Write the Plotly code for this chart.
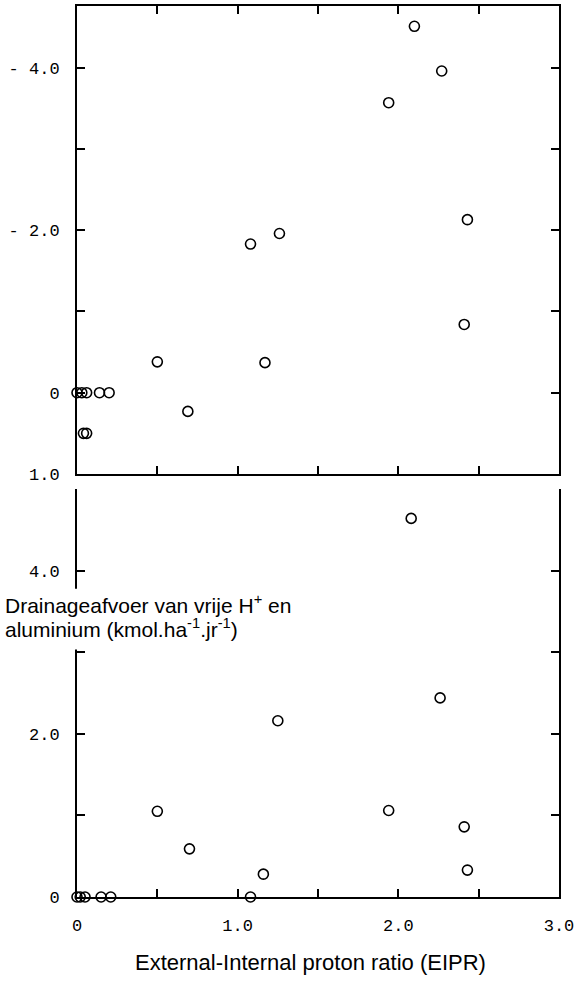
import plotly.graph_objects as go
from plotly.subplots import make_subplots

# ---- data ----
top_x = [0.00, 0.03, 0.06, 0.14, 0.20, 0.04, 0.06, 0.50, 0.69, 1.08, 1.17, 1.26, 1.94, 2.10, 2.27, 2.43, 2.41]
top_y = [0.00, 0.00, 0.00, 0.00, 0.00, -0.50, -0.50, 0.38, -0.23, 1.83, 0.37, 1.96, 3.57, 4.51, 3.96, 2.13, 0.84]

bot_x = [0.00, 0.02, 0.05, 0.15, 0.21, 0.50, 0.70, 1.08, 1.16, 1.25, 1.94, 2.08, 2.26, 2.41, 2.43]
bot_y = [0.00, 0.00, 0.00, 0.00, 0.00, 1.05, 0.59, 0.00, 0.28, 2.16, 1.06, 4.64, 2.44, 0.86, 0.33]

x_tickvals = [0, 0.5, 1.0, 1.5, 2.0, 2.5, 3.0]
x_ticktext = ["0", "", "1.0", "", "2.0", "", "3.0"]
top_y_tickvals = [-1, 0, 1, 2, 3, 4]
top_y_ticktext = ["1.0", "0", "", "- 2.0", "", "- 4.0"]
bot_y_tickvals = [0, 1, 2, 3, 4, 5]
bot_y_ticktext = ["0", "", "2.0", "", "4.0", ""]

y_title_lines = ["Drainageafvoer van vrije H<sup>+</sup> en",
                 "aluminium (kmol.ha<sup>-1</sup>.jr<sup>-1</sup>)"]
x_title = "External-Internal proton ratio (EIPR)"

W, H = 578, 981
L, R, T, B = 77, 17, 4, 84
plot_w = W - L - R
plot_h = H - T - B

fig = make_subplots(rows=2, cols=1, shared_xaxes=False, vertical_spacing=0)

marker = dict(symbol="circle-open", size=10, color="black", line=dict(width=1.6, color="black"))
fig.add_trace(go.Scatter(x=top_x, y=top_y, mode="markers", marker=marker, cliponaxis=False,
                         showlegend=False, hoverinfo="skip"), row=1, col=1)
fig.add_trace(go.Scatter(x=bot_x, y=bot_y, mode="markers", marker=marker, cliponaxis=False,
                         showlegend=False, hoverinfo="skip"), row=2, col=1)

tickfont = dict(family="Liberation Mono", size=17, color="black")
top_dom = [(897 - 473) / plot_h, 1.0]
bot_dom = [0.0, (897 - 488) / plot_h]

common_x = dict(range=[0, 3.0], tickvals=x_tickvals, showline=True, linecolor="black",
                linewidth=2, ticks="inside", ticklen=8, tickwidth=2, tickcolor="black",
                showgrid=False, zeroline=False, tickfont=tickfont)

fig.update_layout(
    xaxis=dict(**common_x, mirror="ticks", showticklabels=False, anchor="y"),
    yaxis=dict(domain=top_dom, range=[-1, 4.76], tickvals=top_y_tickvals, ticktext=top_y_ticktext,
               showline=True, linecolor="black", linewidth=2, mirror="ticks", ticks="inside",
               ticklen=8, tickwidth=2, tickcolor="black", showgrid=False, zeroline=False,
               tickfont=tickfont, ticklabelstandoff=12, anchor="x"),
    xaxis2=dict(**common_x, ticktext=x_ticktext, mirror=False, anchor="y2", ticklabelstandoff=12),
    yaxis2=dict(domain=bot_dom, range=[0, 5.001], tickvals=bot_y_tickvals, ticktext=bot_y_ticktext,
                showline=True, linecolor="black", linewidth=2, mirror="ticks", ticks="inside",
                ticklen=8, tickwidth=2, tickcolor="black", showgrid=False, zeroline=False,
                tickfont=tickfont, ticklabelstandoff=12, anchor="x2"),
    width=W, height=H,
    margin=dict(l=L, r=R, t=T, b=B),
    plot_bgcolor="white", paper_bgcolor="white",
    showlegend=False, hovermode=False,
)

# white mask that breaks the left axis line behind the y title
fig.add_shape(type="rect", xref="paper", yref="paper", layer="above",
              x0=(0 - L) / plot_w, x1=(300 - L) / plot_w,
              y0=(897 - 649) / plot_h, y1=(897 - 588) / plot_h,
              fillcolor="white", line=dict(width=0))

title_font = dict(family="Liberation Sans", size=21, color="black")
for line, ypx in zip(y_title_lines, [603, 627]):
    fig.add_annotation(text=line, xref="paper", yref="paper",
                       x=(3 - L) / plot_w, y=(897 - ypx) / plot_h,
                       xanchor="left", yanchor="middle", align="left", showarrow=False,
                       font=title_font)
fig.add_annotation(text=x_title, xref="paper", yref="paper",
                   x=(311 - L) / plot_w, y=(897 - 963) / plot_h,
                   xanchor="center", yanchor="middle", showarrow=False,
                   font=dict(family="Liberation Sans", size=22, color="black"))

fig.write_html("out.html", config={"displayModeBar": False},
               post_script="document.body.style.margin='0px';")
